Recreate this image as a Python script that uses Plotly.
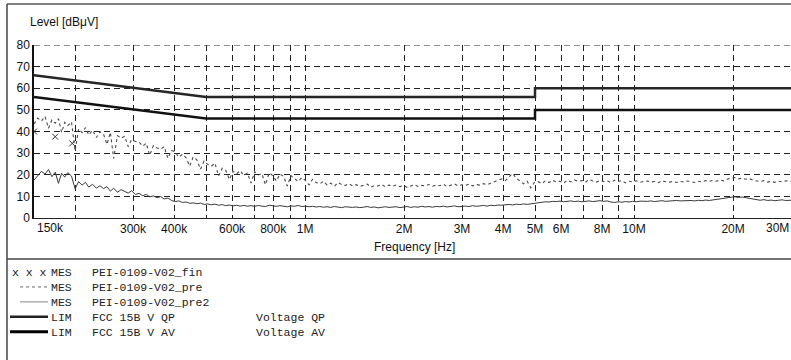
import math
import plotly.graph_objects as go

# ---------------- data ----------------
freq_khz = [
    150, 154, 158, 162, 166, 170, 174, 178, 182, 186,
    190, 195, 200, 205, 210, 215, 220, 226, 232, 238,
    244, 250, 256, 262, 269, 276, 283, 290, 297, 305,
    313, 321, 329, 337, 346, 355, 364, 373, 383, 393,
    403, 413, 424, 435, 446, 457, 469, 481, 493, 506,
    519, 532, 546, 560, 574, 589, 604, 619, 635, 651,
    668, 685, 703, 721, 739, 758, 778, 798, 818, 839,
    861, 883, 906, 929, 953, 977, 1002, 1028, 1054, 1081,
    1109, 1138, 1167, 1197, 1228, 1260, 1292, 1325, 1359, 1394,
    1430, 1467, 1505, 1544, 1584, 1625, 1667, 1710, 1754, 1799,
    1845, 1893, 1942, 1992, 2043, 2096, 2150, 2205, 2262, 2320,
    2380, 2441, 2504, 2569, 2635, 2703, 2773, 2844, 2917, 2993,
    3070, 3149, 3230, 3313, 3399, 3486, 3576, 3669, 3763, 3860,
    3960, 4062, 4167, 4275, 4385, 4498, 4614, 4733, 4855, 4980,
    5109, 5241, 5376, 5515, 5657, 5803, 5953, 6107, 6264, 6426,
    6592, 6762, 6937, 7116, 7300, 7488, 7681, 7880, 8083, 8292,
    8506, 8725, 8951, 9182, 9419, 9662, 9911, 10167, 10430, 10699,
    10975, 11258, 11549, 11847, 12153, 12467, 12789, 13119, 13458, 13805,
    14162, 14527, 14902, 15287, 15682, 16087, 16502, 16928, 17365, 17814,
    18274, 18745, 19229, 19726, 20235, 20758, 21294, 21844, 22408, 22986,
    23580, 24189, 24813, 25454, 26111, 26786, 27477, 28187, 28915, 29661,
    30000,
]

pre_dbuv = [
    43.5, 46.2, 44.8, 47.0, 41.5, 45.3, 43.8, 45.9, 39.6, 44.2,
    42.7, 44.5, 31.0, 41.2, 39.5, 41.8, 38.4, 40.6, 37.2, 39.9,
    38.8, 34.1, 39.6, 27.5, 38.1, 36.9, 37.8, 33.0, 36.2, 35.4,
    35.1, 33.2, 34.6, 29.0, 33.5, 32.4, 31.8, 33.0, 27.6, 31.2,
    30.6, 28.1, 29.5, 27.8, 24.0, 28.2, 26.9, 22.5, 26.3, 24.8,
    23.9, 25.4, 19.5, 23.0, 22.1, 17.8, 21.6, 20.4, 21.9, 19.7,
    20.8, 16.2, 21.4, 19.9, 20.6, 15.4, 20.9, 19.6, 17.1, 20.3,
    19.2, 14.8, 19.6, 18.2, 16.9, 18.7, 17.4, 15.3, 17.9, 16.4,
    15.8, 17.0, 15.2, 16.1, 14.7, 16.4, 15.5, 15.0, 15.9, 14.9,
    15.4, 14.6, 15.1, 15.7, 14.3, 15.0, 14.8, 15.5, 14.4, 15.2,
    14.7, 15.3, 14.5, 15.0, 14.2, 14.9, 15.4, 14.6, 15.1, 14.8,
    15.5, 14.7, 15.2, 14.9, 15.6, 14.5, 15.3, 15.8, 14.9, 15.4,
    15.0, 15.7, 14.8, 15.5, 15.2, 15.9, 15.4, 16.2, 16.8, 17.5,
    18.1, 17.3, 19.0, 20.6, 18.4, 17.2, 15.8, 17.0, 13.9, 16.5,
    16.8, 15.9, 17.2, 16.4, 17.5, 16.6, 17.0, 16.1, 17.4, 16.7,
    17.6, 16.9, 17.3, 16.5, 17.8, 17.1, 16.6, 17.4, 16.8, 17.2,
    16.4, 17.5, 16.9, 17.3, 16.2, 17.0, 16.7, 17.2, 16.5, 16.9,
    17.1, 16.6, 16.9, 16.3, 17.2, 16.8, 16.5, 17.0, 16.4, 16.9,
    16.6, 17.1, 16.8, 16.4, 17.0, 16.7, 17.3, 16.9, 17.4, 17.0,
    17.6, 17.2, 18.0, 18.4, 18.7, 18.1, 18.5, 17.9, 18.2, 17.5,
    17.1, 16.8, 17.3, 16.6, 16.9, 16.5, 17.0, 16.7, 17.2, 16.8,
    16.9,
]

pre2_dbuv = [
    17.5, 19.8, 21.6, 20.3, 22.4, 19.1, 21.2, 16.0, 20.7, 18.9,
    21.0, 19.4, 13.5, 16.8, 15.2, 16.5, 14.3, 15.6, 13.8, 14.9,
    13.6, 14.5, 12.4, 13.8, 11.9, 13.1, 12.2, 11.5, 12.6, 10.9,
    11.4, 10.3, 10.9, 9.8, 10.2, 9.4, 9.9, 8.8, 9.2, 8.1,
    7.6, 7.9, 7.2, 7.4, 6.8, 7.0, 6.6, 6.9, 6.3, 6.5,
    6.1, 6.4, 5.9, 6.2, 5.7, 6.0, 5.6, 5.9, 5.5, 5.8,
    5.5, 5.7, 5.4, 5.8, 5.5, 5.3, 5.9, 5.6, 5.4, 5.7,
    5.5, 5.2, 5.6, 5.4, 5.8, 5.3, 5.5, 5.2, 5.4, 5.1,
    5.3, 5.0, 5.2, 4.9, 5.3, 5.1, 4.8, 5.2, 5.0, 4.9,
    5.1, 4.8, 5.0, 5.3, 4.9, 5.1, 4.7, 5.0, 5.2, 4.9,
    5.0, 5.2, 4.8, 5.1, 5.3, 4.9, 5.2, 5.0, 5.4, 5.1,
    5.3, 5.0, 5.4, 5.2, 5.5, 5.1, 5.3, 5.6, 5.2, 5.4,
    5.5, 5.3, 5.7, 5.4, 5.6, 5.8, 5.5, 5.9, 5.7, 6.0,
    5.9, 6.1, 6.3, 6.0, 6.4, 6.2, 6.5, 6.3, 6.6, 6.8,
    7.1, 7.3, 7.5, 7.4, 7.7, 7.6, 7.8, 7.5, 7.7, 7.9,
    7.6, 7.8, 7.5, 7.7, 7.9, 7.6, 7.8, 8.0, 7.7, 7.9,
    7.4, 7.2, 7.5, 7.3, 7.6, 7.4, 7.7, 7.5, 7.8, 7.6,
    7.7, 7.9, 7.6, 7.8, 8.0, 7.7, 7.9, 7.8, 8.1, 7.9,
    8.0, 7.8, 8.1, 7.9, 8.2, 8.0, 8.3, 8.1, 8.4, 8.6,
    8.8, 9.0, 9.3, 9.6, 9.8, 9.5, 9.7, 9.4, 9.1, 8.7,
    8.4, 8.2, 8.5, 8.1, 8.3, 8.0, 8.2, 8.4, 8.1, 8.3,
    8.2,
]

fin_khz = [150, 174, 196]
fin_dbuv = [40.0, 37.6, 34.5]

qp_khz = [150, 500, 5000, 5000, 30000]
qp_dbuv = [66, 56, 56, 60, 60]
av_khz = [150, 500, 5000, 5000, 30000]
av_dbuv = [56, 46, 46, 50, 50]

x_grid_khz = [200, 300, 400, 500, 600, 700, 800, 900, 1000,
              2000, 3000, 4000, 5000, 6000, 7000, 8000, 9000, 10000, 20000]
x_grid_labels = ["", "300k", "400k", "", "600k", "", "800k", "", "1M",
                 "2M", "3M", "4M", "5M", "6M", "", "8M", "", "10M", "20M"]
y_ticks = [0, 10, 20, 30, 40, 50, 60, 70, 80]

legend_marks = ["x x x"]
legend_kind = ["MES", "MES", "MES", "LIM", "LIM"]
legend_names = ["PEI-0109-V02_fin", "PEI-0109-V02_pre", "PEI-0109-V02_pre2",
                "FCC 15B V QP", "FCC 15B V AV"]
legend_notes = ["", "", "", "Voltage QP", "Voltage AV"]

# ---------------- layout helpers ----------------
W, H = 791, 360
L, R_PX, T, B_PX = 34, 791, 45, 218


def fx(px):
    return (px - L) / (R_PX - L)


def fy(py):
    return (B_PX - py) / (B_PX - T)


def hz(k):
    return [v * 1000 for v in k]


fig = go.Figure()

fig.add_trace(go.Scatter(x=hz(freq_khz), y=pre2_dbuv, mode="lines",
                         line=dict(color="#3a3a3a", width=1), hoverinfo="skip"))
fig.add_trace(go.Scatter(x=hz(freq_khz), y=pre_dbuv, mode="lines",
                         line=dict(color="#4a4a4a", width=1.1, dash="dot"), hoverinfo="skip"))
fig.add_trace(go.Scatter(x=hz(fin_khz), y=fin_dbuv, mode="markers",
                         marker=dict(symbol="x-thin", size=6, line=dict(color="#333", width=1)),
                         hoverinfo="skip"))
fig.add_trace(go.Scatter(x=hz(qp_khz), y=qp_dbuv, mode="lines",
                         line=dict(color="#262626", width=2.5), hoverinfo="skip"))
fig.add_trace(go.Scatter(x=hz(av_khz), y=av_dbuv, mode="lines",
                         line=dict(color="#111", width=2.5), hoverinfo="skip"))

axis_font = dict(family="Liberation Sans, Arial, sans-serif", size=12, color="#111")

fig.update_layout(
    width=W, height=H, autosize=False,
    margin=dict(l=L, r=W - R_PX, t=T, b=H - B_PX),
    paper_bgcolor="white", plot_bgcolor="white",
    showlegend=False,
    font=axis_font,
    xaxis=dict(type="log", range=[math.log10(150e3), math.log10(30e6)],
               tickvals=hz(x_grid_khz), ticktext=x_grid_labels,
               showgrid=True, gridcolor="#222", gridwidth=1, griddash="6px,4px",
               showline=True, linecolor="#222", linewidth=1, ticks="",
               zeroline=False, tickfont=axis_font),
    yaxis=dict(range=[0, 80], tickvals=y_ticks, ticktext=[str(v) for v in y_ticks],
               showgrid=True, gridcolor="#222", gridwidth=1, griddash="6px,4px",
               showline=True, linecolor="#111", linewidth=1.5, ticks="",
               zeroline=False, tickfont=axis_font),
)

shapes = [
    dict(type="line", xref="paper", yref="y", x0=0, x1=1, y0=80, y1=80,
         line=dict(color="#222", width=1, dash="6px,4px")),
    # outer frame
    dict(type="line", xref="paper", yref="paper", x0=fx(7), x1=fx(7), y0=fy(4), y1=fy(360),
         line=dict(color="#444", width=1.5)),
    dict(type="line", xref="paper", yref="paper", x0=fx(7), x1=fx(791), y0=fy(4), y1=fy(4),
         line=dict(color="#555", width=1.5)),
    dict(type="line", xref="paper", yref="paper", x0=fx(7), x1=fx(791), y0=fy(259), y1=fy(259),
         line=dict(color="#444", width=1.5)),
]

annotations = [
    dict(text="Level [dBμV]", xref="paper", yref="paper", x=fx(28), y=fy(22),
         xanchor="left", yanchor="middle", showarrow=False, font=axis_font),
    dict(text="Frequency [Hz]", xref="paper", yref="paper", x=fx(414), y=fy(247),
         xanchor="center", yanchor="middle", showarrow=False, font=axis_font),
    dict(text="150k", xref="paper", yref="paper", x=fx(35), y=fy(228),
         xanchor="left", yanchor="middle", showarrow=False, font=axis_font),
    dict(text="30M", xref="paper", yref="paper", x=1.0, y=fy(228),
         xanchor="right", yanchor="middle", showarrow=False, font=axis_font),
]

# legend block: multi-line monospace columns
FS = 11.5
LINE = FS * 1.3
TOP_ROW = 272
mono = dict(family="Liberation Mono, Courier New, monospace", size=FS, color="#222")
row_y = [TOP_ROW + i * LINE for i in range(5)]
block_top = TOP_ROW - LINE / 2


def column(texts, px):
    return dict(text="<br>".join(t if t else " " for t in texts), xref="paper", yref="paper",
                x=fx(px), y=fy(block_top), xanchor="left", yanchor="top", align="left",
                showarrow=False, font=mono, borderpad=0)


annotations.append(column(legend_marks, 11))
annotations.append(column(legend_kind, 50))
annotations.append(column(legend_names, 91))
annotations.append(column(legend_notes, 255))

sample_styles = [
    None,
    dict(color="#666", width=1, dash="dot"),
    dict(color="#888", width=1),
    dict(color="#222", width=2.5),
    dict(color="#000", width=3),
]
for i, yy in enumerate(row_y):
    if sample_styles[i] is not None:
        x0 = 20 if i in (1, 2) else 10
        shapes.append(dict(type="line", xref="paper", yref="paper",
                           x0=fx(x0), x1=fx(48), y0=fy(yy), y1=fy(yy),
                           line=sample_styles[i]))

fig.update_layout(shapes=shapes, annotations=annotations)

fig.write_html("out.html", config={"displayModeBar": False},
               post_script="document.body.style.margin='0';document.body.style.overflow='hidden';")
